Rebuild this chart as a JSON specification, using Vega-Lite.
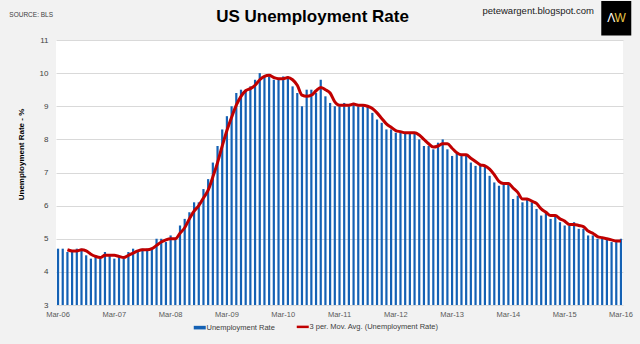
{
  "$schema": "https://vega.github.io/schema/vega-lite/v6.json",
  "width": 567,
  "height": 265,
  "autosize": "none",
  "padding": {"left": 56, "top": 40, "right": 17, "bottom": 39},
  "background": "#f2f2f2",
  "config": {
    "view": {"fill": "white", "stroke": null},
    "font": "Liberation Sans, Arial, sans-serif",
    "axisY": {
      "title": "Unemployment Rate - %",
      "titleFontSize": 8,
      "titleFontWeight": "bold",
      "titleColor": "#000000",
      "titleX": -31,
      "titleY": 114,
      "titleBaseline": "bottom",
      "labelOverlap": false,
      "labelFontSize": 8,
      "labelColor": "#404040",
      "labelPadding": 8,
      "ticks": false,
      "domain": false,
      "gridColor": "#d9d9d9",
      "gridWidth": 1
    }
  },
  "title": {
    "text": "US Unemployment Rate",
    "fontSize": 17,
    "fontWeight": "bold",
    "color": "#000000",
    "font": "Liberation Sans, Arial, sans-serif",
    "anchor": "middle",
    "baseline": "middle",
    "dx": -27,
    "offset": -33
  },
  "data": {
    "values": [
      {"m": "Mar-06", "u": 4.7, "ma": null},
      {"m": "Apr-06", "u": 4.7, "ma": null},
      {"m": "May-06", "u": 4.6, "ma": 4.667},
      {"m": "Jun-06", "u": 4.6, "ma": 4.633},
      {"m": "Jul-06", "u": 4.7, "ma": 4.633},
      {"m": "Aug-06", "u": 4.7, "ma": 4.667},
      {"m": "Sep-06", "u": 4.5, "ma": 4.633},
      {"m": "Oct-06", "u": 4.4, "ma": 4.533},
      {"m": "Nov-06", "u": 4.5, "ma": 4.467},
      {"m": "Dec-06", "u": 4.4, "ma": 4.433},
      {"m": "Jan-07", "u": 4.6, "ma": 4.5},
      {"m": "Feb-07", "u": 4.5, "ma": 4.5},
      {"m": "Mar-07", "u": 4.4, "ma": 4.5},
      {"m": "Apr-07", "u": 4.5, "ma": 4.467},
      {"m": "May-07", "u": 4.4, "ma": 4.433},
      {"m": "Jun-07", "u": 4.6, "ma": 4.5},
      {"m": "Jul-07", "u": 4.7, "ma": 4.567},
      {"m": "Aug-07", "u": 4.6, "ma": 4.633},
      {"m": "Sep-07", "u": 4.7, "ma": 4.667},
      {"m": "Oct-07", "u": 4.7, "ma": 4.667},
      {"m": "Nov-07", "u": 4.7, "ma": 4.7},
      {"m": "Dec-07", "u": 5.0, "ma": 4.8},
      {"m": "Jan-08", "u": 5.0, "ma": 4.9},
      {"m": "Feb-08", "u": 4.9, "ma": 4.967},
      {"m": "Mar-08", "u": 5.1, "ma": 5.0},
      {"m": "Apr-08", "u": 5.0, "ma": 5.0},
      {"m": "May-08", "u": 5.4, "ma": 5.167},
      {"m": "Jun-08", "u": 5.6, "ma": 5.333},
      {"m": "Jul-08", "u": 5.8, "ma": 5.6},
      {"m": "Aug-08", "u": 6.1, "ma": 5.833},
      {"m": "Sep-08", "u": 6.1, "ma": 6.0},
      {"m": "Oct-08", "u": 6.5, "ma": 6.233},
      {"m": "Nov-08", "u": 6.8, "ma": 6.467},
      {"m": "Dec-08", "u": 7.3, "ma": 6.867},
      {"m": "Jan-09", "u": 7.8, "ma": 7.3},
      {"m": "Feb-09", "u": 8.3, "ma": 7.8},
      {"m": "Mar-09", "u": 8.7, "ma": 8.267},
      {"m": "Apr-09", "u": 9.0, "ma": 8.667},
      {"m": "May-09", "u": 9.4, "ma": 9.033},
      {"m": "Jun-09", "u": 9.5, "ma": 9.3},
      {"m": "Jul-09", "u": 9.5, "ma": 9.467},
      {"m": "Aug-09", "u": 9.6, "ma": 9.533},
      {"m": "Sep-09", "u": 9.8, "ma": 9.633},
      {"m": "Oct-09", "u": 10.0, "ma": 9.8},
      {"m": "Nov-09", "u": 9.9, "ma": 9.9},
      {"m": "Dec-09", "u": 9.9, "ma": 9.933},
      {"m": "Jan-10", "u": 9.8, "ma": 9.867},
      {"m": "Feb-10", "u": 9.8, "ma": 9.833},
      {"m": "Mar-10", "u": 9.9, "ma": 9.833},
      {"m": "Apr-10", "u": 9.9, "ma": 9.867},
      {"m": "May-10", "u": 9.6, "ma": 9.8},
      {"m": "Jun-10", "u": 9.4, "ma": 9.633},
      {"m": "Jul-10", "u": 9.0, "ma": 9.333},
      {"m": "Aug-10", "u": 9.5, "ma": 9.3},
      {"m": "Sep-10", "u": 9.5, "ma": 9.333},
      {"m": "Oct-10", "u": 9.4, "ma": 9.467},
      {"m": "Nov-10", "u": 9.8, "ma": 9.567},
      {"m": "Dec-10", "u": 9.3, "ma": 9.5},
      {"m": "Jan-11", "u": 9.1, "ma": 9.4},
      {"m": "Feb-11", "u": 9.0, "ma": 9.133},
      {"m": "Mar-11", "u": 9.0, "ma": 9.033},
      {"m": "Apr-11", "u": 9.1, "ma": 9.033},
      {"m": "May-11", "u": 9.0, "ma": 9.033},
      {"m": "Jun-11", "u": 9.1, "ma": 9.067},
      {"m": "Jul-11", "u": 9.0, "ma": 9.033},
      {"m": "Aug-11", "u": 9.0, "ma": 9.033},
      {"m": "Sep-11", "u": 9.0, "ma": 9.0},
      {"m": "Oct-11", "u": 8.8, "ma": 8.933},
      {"m": "Nov-11", "u": 8.6, "ma": 8.8},
      {"m": "Dec-11", "u": 8.5, "ma": 8.633},
      {"m": "Jan-12", "u": 8.3, "ma": 8.467},
      {"m": "Feb-12", "u": 8.3, "ma": 8.367},
      {"m": "Mar-12", "u": 8.2, "ma": 8.267},
      {"m": "Apr-12", "u": 8.2, "ma": 8.233},
      {"m": "May-12", "u": 8.2, "ma": 8.2},
      {"m": "Jun-12", "u": 8.2, "ma": 8.2},
      {"m": "Jul-12", "u": 8.2, "ma": 8.2},
      {"m": "Aug-12", "u": 8.0, "ma": 8.133},
      {"m": "Sep-12", "u": 7.8, "ma": 8.0},
      {"m": "Oct-12", "u": 7.8, "ma": 7.867},
      {"m": "Nov-12", "u": 7.7, "ma": 7.767},
      {"m": "Dec-12", "u": 7.9, "ma": 7.8},
      {"m": "Jan-13", "u": 8.0, "ma": 7.867},
      {"m": "Feb-13", "u": 7.7, "ma": 7.867},
      {"m": "Mar-13", "u": 7.5, "ma": 7.733},
      {"m": "Apr-13", "u": 7.6, "ma": 7.6},
      {"m": "May-13", "u": 7.5, "ma": 7.533},
      {"m": "Jun-13", "u": 7.5, "ma": 7.533},
      {"m": "Jul-13", "u": 7.3, "ma": 7.433},
      {"m": "Aug-13", "u": 7.2, "ma": 7.333},
      {"m": "Sep-13", "u": 7.2, "ma": 7.233},
      {"m": "Oct-13", "u": 7.2, "ma": 7.2},
      {"m": "Nov-13", "u": 6.9, "ma": 7.1},
      {"m": "Dec-13", "u": 6.7, "ma": 6.933},
      {"m": "Jan-14", "u": 6.6, "ma": 6.733},
      {"m": "Feb-14", "u": 6.7, "ma": 6.667},
      {"m": "Mar-14", "u": 6.7, "ma": 6.667},
      {"m": "Apr-14", "u": 6.2, "ma": 6.533},
      {"m": "May-14", "u": 6.3, "ma": 6.4},
      {"m": "Jun-14", "u": 6.1, "ma": 6.2},
      {"m": "Jul-14", "u": 6.2, "ma": 6.2},
      {"m": "Aug-14", "u": 6.1, "ma": 6.133},
      {"m": "Sep-14", "u": 5.9, "ma": 6.067},
      {"m": "Oct-14", "u": 5.7, "ma": 5.9},
      {"m": "Nov-14", "u": 5.8, "ma": 5.8},
      {"m": "Dec-14", "u": 5.6, "ma": 5.7},
      {"m": "Jan-15", "u": 5.7, "ma": 5.7},
      {"m": "Feb-15", "u": 5.5, "ma": 5.6},
      {"m": "Mar-15", "u": 5.4, "ma": 5.533},
      {"m": "Apr-15", "u": 5.4, "ma": 5.433},
      {"m": "May-15", "u": 5.5, "ma": 5.433},
      {"m": "Jun-15", "u": 5.3, "ma": 5.4},
      {"m": "Jul-15", "u": 5.3, "ma": 5.367},
      {"m": "Aug-15", "u": 5.1, "ma": 5.233},
      {"m": "Sep-15", "u": 5.1, "ma": 5.167},
      {"m": "Oct-15", "u": 5.0, "ma": 5.067},
      {"m": "Nov-15", "u": 5.0, "ma": 5.033},
      {"m": "Dec-15", "u": 5.0, "ma": 5.0},
      {"m": "Jan-16", "u": 4.9, "ma": 4.967},
      {"m": "Feb-16", "u": 4.9, "ma": 4.933},
      {"m": "Mar-16", "u": 5.0, "ma": 4.933}
    ]
  },
  "encoding": {
    "x": {
      "field": "m",
      "type": "ordinal",
      "sort": null,
      "scale": {"paddingInner": 0.53, "paddingOuter": 0.2},
      "axis": {
        "title": null,
        "values": ["Mar-06", "Mar-07", "Mar-08", "Mar-09", "Mar-10", "Mar-11", "Mar-12", "Mar-13", "Mar-14", "Mar-15", "Mar-16"],
        "labelAngle": 0,
        "labelFontSize": 7.5,
        "labelColor": "#595959",
        "labelPadding": 5,
        "ticks": false,
        "domain": false,
        "grid": false
      }
    }
  },
  "layer": [
    {
      "mark": {"type": "bar"},
      "encoding": {
        "y": {
          "field": "u",
          "type": "quantitative",
          "scale": {"domain": [3, 11], "nice": false, "zero": false},
          "axis": {"title": "Unemployment Rate - %", "values": [3, 4, 5, 6, 7, 8, 9, 10, 11], "tickCount": 9}
        },
        "y2": {"datum": 3},
        "color": {
          "datum": "Unemployment Rate",
          "type": "nominal",
          "scale": {
            "domain": ["Unemployment Rate", "3 per. Mov. Avg. (Unemployment Rate)"],
            "range": ["#1461b4", "#c00000"]
          },
          "legend": {
            "title": null,
            "orient": "none",
            "direction": "horizontal",
            "legendX": 140,
            "legendY": 283,
            "labelFontSize": 7.5,
            "labelColor": "#404040",
            "symbolSize": 144,
            "columnPadding": 16,
            "labelOffset": 3,
            "encode": {
              "symbols": {
                "update": {
                  "shape": {"signal": "datum.value === 'Unemployment Rate' ? 'M-1,-0.3H1V0.3H-1Z' : 'stroke'"},
                  "fill": {"signal": "datum.value === 'Unemployment Rate' ? '#1461b4' : 'transparent'"},
                  "stroke": {"signal": "datum.value === 'Unemployment Rate' ? 'transparent' : '#c00000'"},
                  "strokeWidth": {"signal": "datum.value === 'Unemployment Rate' ? 0 : 2.5"},
                  "opacity": {"value": 1}
                }
              }
            }
          }
        }
      }
    },
    {
      "mark": {"type": "line", "strokeWidth": 3, "interpolate": "monotone"},
      "encoding": {
        "y": {
          "field": "ma",
          "type": "quantitative",
          "axis": {"title": "Unemployment Rate - %", "values": [3, 4, 5, 6, 7, 8, 9, 10, 11], "tickCount": 9}
        },
        "color": {"datum": "3 per. Mov. Avg. (Unemployment Rate)", "type": "nominal"}
      }
    },
    {
      "transform": [{"filter": "datum.m === 'Mar-06'"}],
      "mark": {"type": "text", "text": "SOURCE: BLS", "align": "right", "baseline": "middle", "dx": -5, "fontSize": 6.5, "color": "#404040"},
      "encoding": {"y": {"datum": 11.755}}
    },
    {
      "transform": [{"filter": "datum.m === 'Mar-16'"}],
      "mark": {"type": "text", "text": "petewargent.blogspot.com", "align": "right", "baseline": "middle", "dx": -27, "fontSize": 9.5, "color": "#1a1a1a"},
      "encoding": {"y": {"datum": 11.89}}
    },
    {
      "transform": [{"filter": "datum.m === 'Feb-16'"}],
      "mark": {"type": "point", "shape": "M-1,-1.15H1V1.15H-1Z", "size": 900, "filled": true, "color": "#000000", "opacity": 1},
      "encoding": {"y": {"datum": 11.66}}
    },
    {
      "transform": [{"filter": "datum.m === 'Feb-16'"}],
      "mark": {"type": "text", "text": "Λ", "align": "center", "baseline": "middle", "dx": -5, "fontSize": 12, "color": "#ffffff"},
      "encoding": {"y": {"datum": 11.66}}
    },
    {
      "transform": [{"filter": "datum.m === 'Feb-16'"}],
      "mark": {"type": "text", "text": "W", "align": "center", "baseline": "middle", "dx": 4, "fontSize": 12, "color": "#e8c547"},
      "encoding": {"y": {"datum": 11.66}}
    }
  ]
}
